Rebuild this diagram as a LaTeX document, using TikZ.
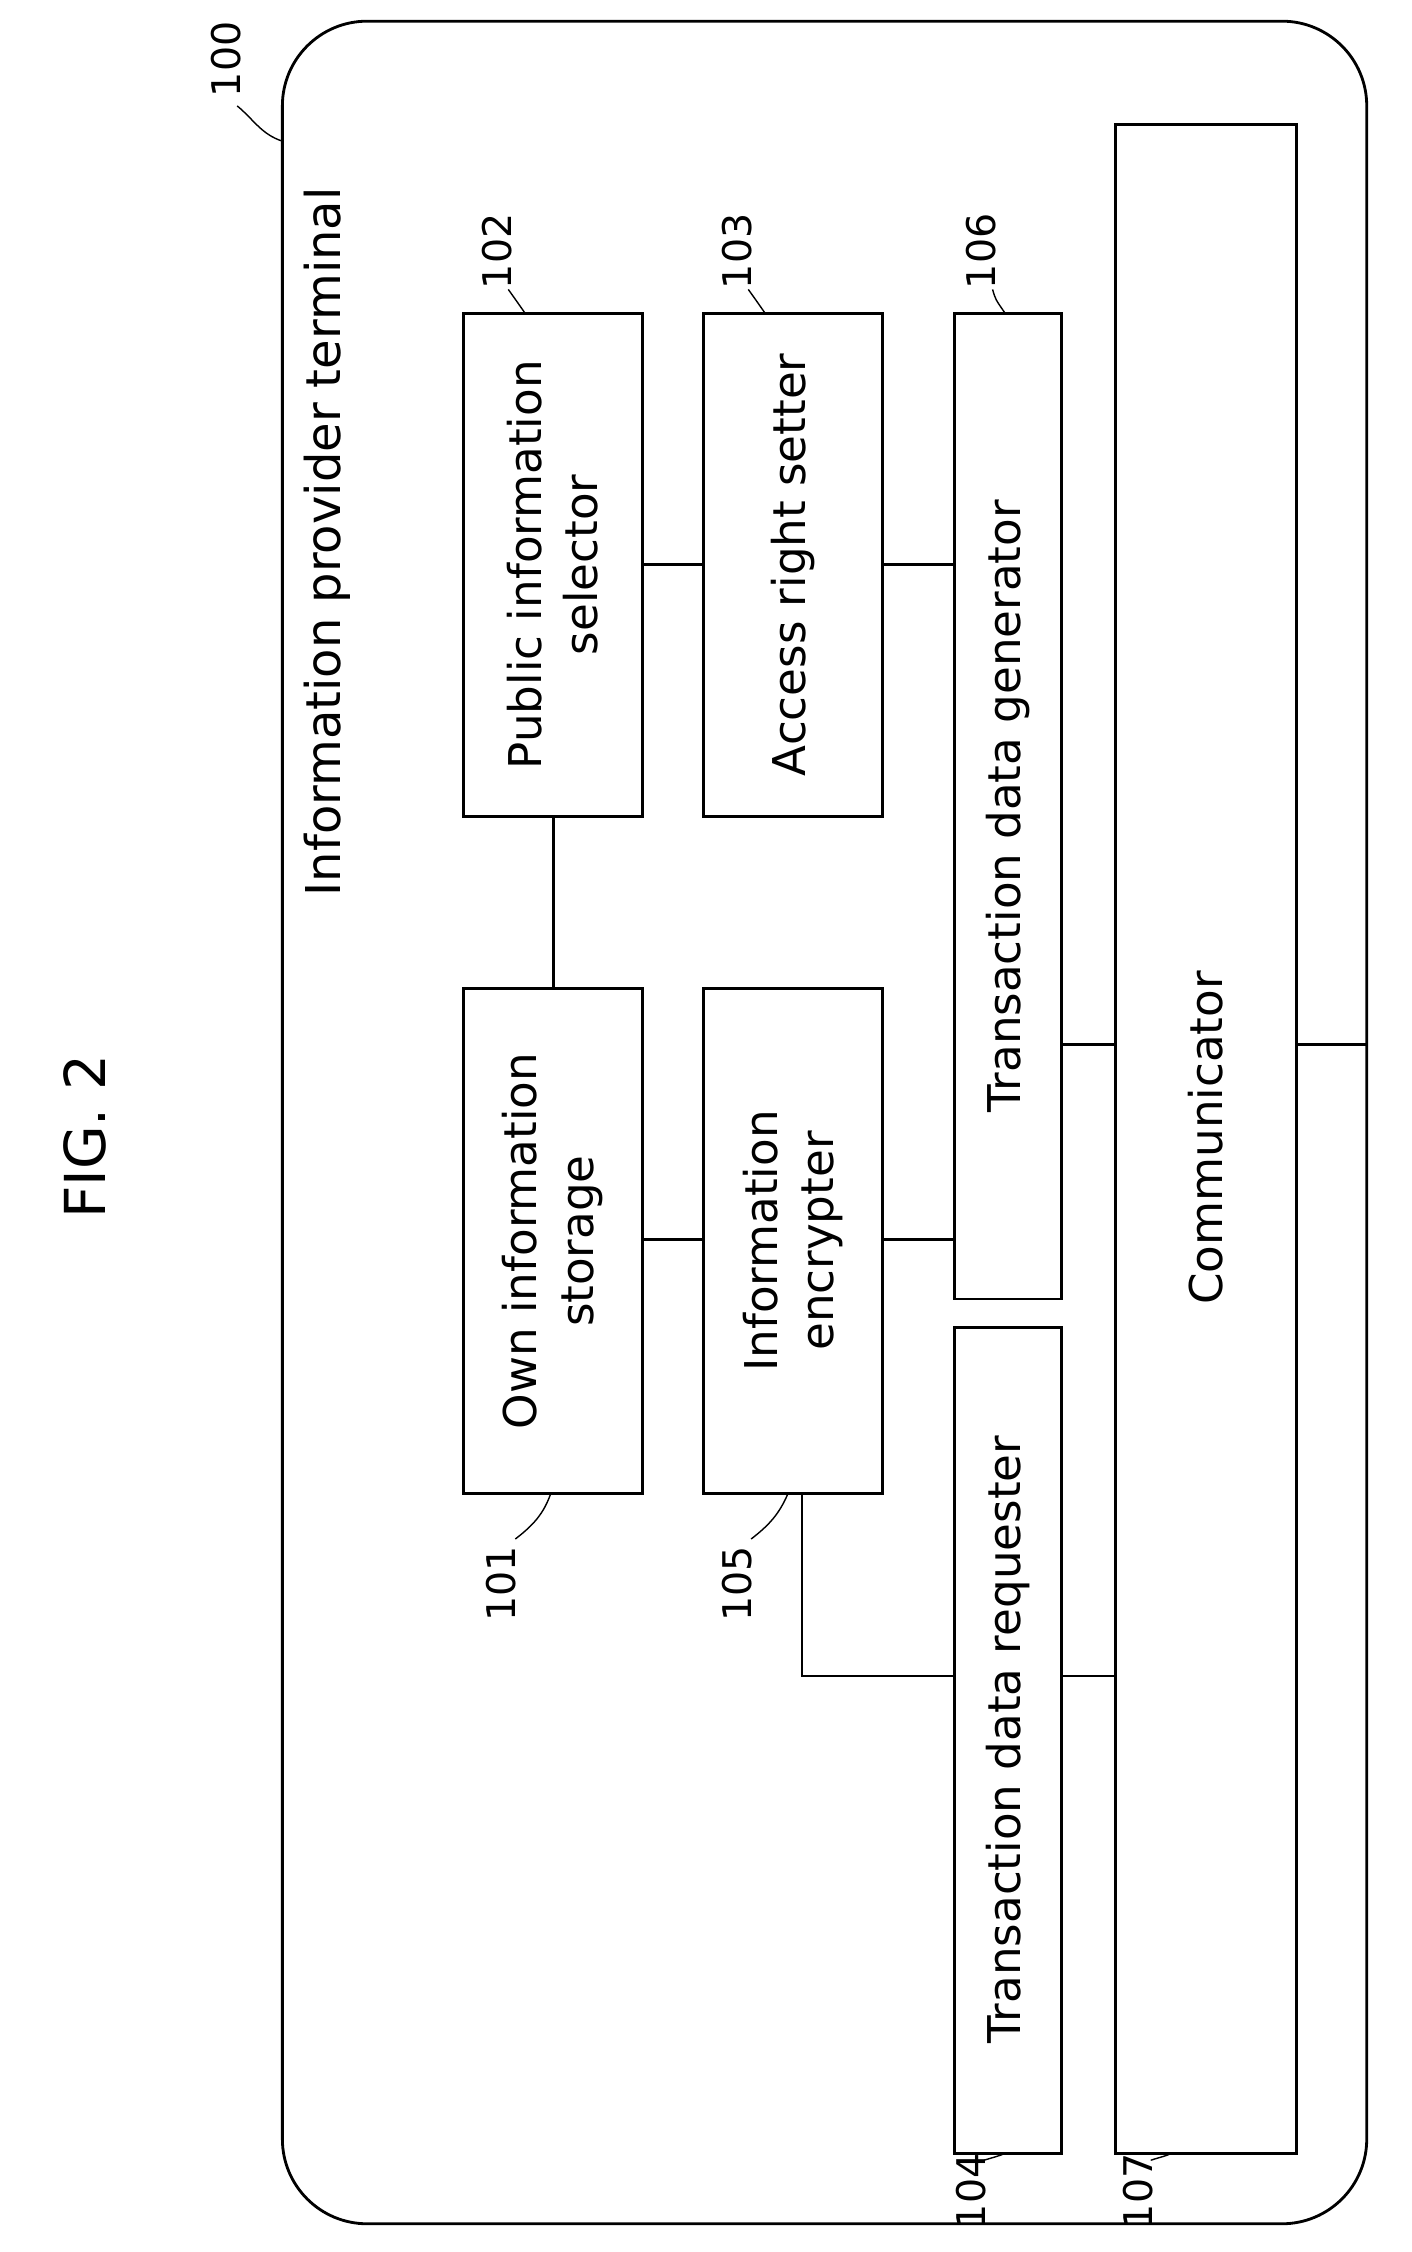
\documentclass[tikz,border=0pt]{standalone}
\usepackage{fontspec}
\setmainfont{DejaVu Sans}
\begin{document}
\begin{tikzpicture}[x=0.5pt,y=-0.5pt,
  box/.style={draw,line width=1pt,inner sep=0pt},
  txt/.style={rotate=90,align=center,font=\fontsize{16}{20}\selectfont},
  lab/.style={rotate=90,font=\fontsize{14}{16}\selectfont},
  ln/.style={line width=1pt},
  lead/.style={line width=0.5pt}]
\useasboundingbox (0,0) rectangle (1000,1595);
\draw[line width=1pt,rounded corners=30pt] (200,15) rectangle (968,1575);
\node[rotate=90,font=\fontsize{20}{24}\selectfont] (fig) at (60,805) {FIG. 2};
\node[rotate=90,font=\fontsize{17}{20}\selectfont,anchor=west] (title) at (232,642) {Information provider terminal};
% boxes
\draw[box] (328,700) rectangle (455,1058);
\draw[box] (328,222) rectangle (455,578);
\draw[box] (498,700) rectangle (625,1058);
\draw[box] (498,222) rectangle (625,578);
\draw[box] (676,940) rectangle (752,1525);
\draw[box] (676,222) rectangle (752,920);
\draw[box] (790,88) rectangle (918,1525);
\node[txt] (t101) at (391.5,879) {Own information\\storage};
\node[txt] (t102) at (391.5,400) {Public information\\selector};
\node[txt] (t105) at (561.5,879) {Information\\encrypter};
\node[txt] (t103) at (561.5,400) {Access right setter};
\node[txt] (t104) at (714,1232) {Transaction data requester};
\node[txt] (t106) at (714,571) {Transaction data generator};
\node[txt] (t107) at (854,806) {Communicator};
% connectors
\draw[ln] (392,578) -- (392,700);
\draw[ln] (455,878) -- (498,878);
\draw[ln] (625,878) -- (676,878);
\draw[ln] (455,400) -- (498,400);
\draw[ln] (625,400) -- (676,400);
\draw[ln] (752,740) -- (790,740);
\draw[ln] (568,1058) -- (568,1187) -- (676,1187);
\draw[ln] (752,1187) -- (790,1187);
\draw[ln] (918,740) -- (968,740);
% labels
\node[lab] (l100) at (160,42) {100};
\draw[lead] (168,75) .. controls (180,85) and (185,95) .. (200,100);
\node[lab] (l102) at (352,178) {102};
\draw[lead] (360,205) .. controls (365,212) .. (372,222);
\node[lab] (l103) at (522,178) {103};
\draw[lead] (530,205) .. controls (535,212) .. (542,222);
\node[lab] (l106) at (695,178) {106};
\draw[lead] (703,205) .. controls (705,212) .. (712,222);
\node[lab] (l101) at (355,1122) {101};
\draw[lead] (365,1090) .. controls (378,1080) and (385,1072) .. (390,1058);
\node[lab] (l105) at (522,1122) {105};
\draw[lead] (532,1090) .. controls (545,1080) and (552,1072) .. (558,1058);
\node[lab] (l104) at (688,1552) {104};
\draw[lead] (697,1530) .. controls (703,1528) and (708,1527) .. (712,1525);
\node[lab] (l107) at (806,1552) {107};
\draw[lead] (815,1530) .. controls (821,1528) and (826,1527) .. (830,1525);
\end{tikzpicture}
\end{document}
